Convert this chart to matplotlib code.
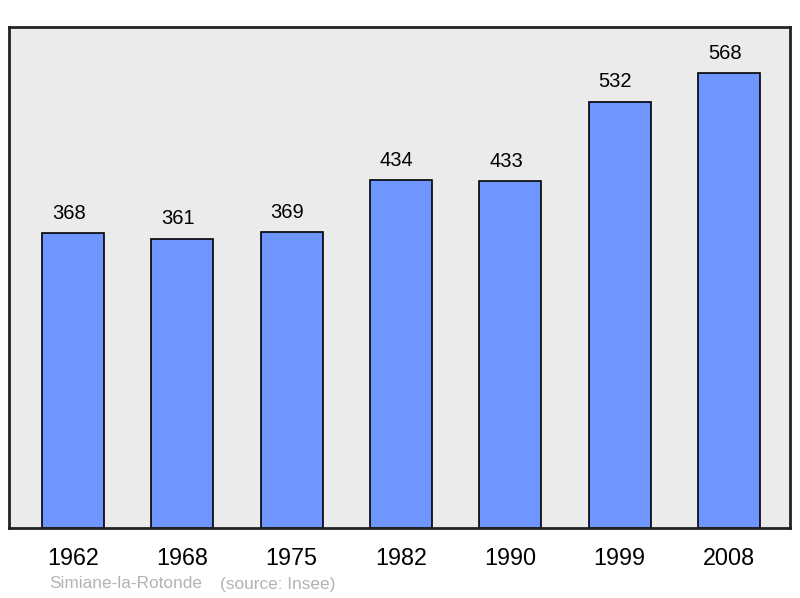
import matplotlib; matplotlib.use("Agg")
import matplotlib.pyplot as plt

years = ["1962", "1968", "1975", "1982", "1990", "1999", "2008"]
population = [368, 361, 369, 434, 433, 532, 568]
town = "Simiane-la-Rotonde"
source = "(source: Insee)"

plt.rcParams["font.family"] = ["Liberation Sans", "DejaVu Sans"]

fig = plt.figure(figsize=(8, 5.98), dpi=100)
ax = fig.add_axes([9 / 800, 1 - 528 / 598, 781 / 800, 501 / 598])
ax.set_facecolor("#ebebeb")

x = range(len(years))
ax.bar(x, population, width=0.567, color="#6f96ff", edgecolor="black",
       linewidth=1.2, zorder=2)
for i, v in zip(x, population):
    ax.text(i - 0.04, v + 13, str(v), ha="center", va="bottom", fontsize=14.5)

ax.set_xlim(-0.585, 6.558)
ax.set_ylim(0, 625.5)
ax.set_xticks(list(x))
ax.set_xticklabels(years, fontsize=16.8)
ax.tick_params(axis="x", length=0, pad=14)
ax.set_yticks([])
for s in ax.spines.values():
    s.set_linewidth(2)
    s.set_color("#222222")

fig.text(49 / 800, 1 - 584 / 598, town, fontsize=12.4, color="#b3b3b3", va="center")
fig.text(220 / 800, 1 - 584 / 598, source, fontsize=12.4, color="#b3b3b3", va="center")

fig.savefig("out.png", dpi=100)
